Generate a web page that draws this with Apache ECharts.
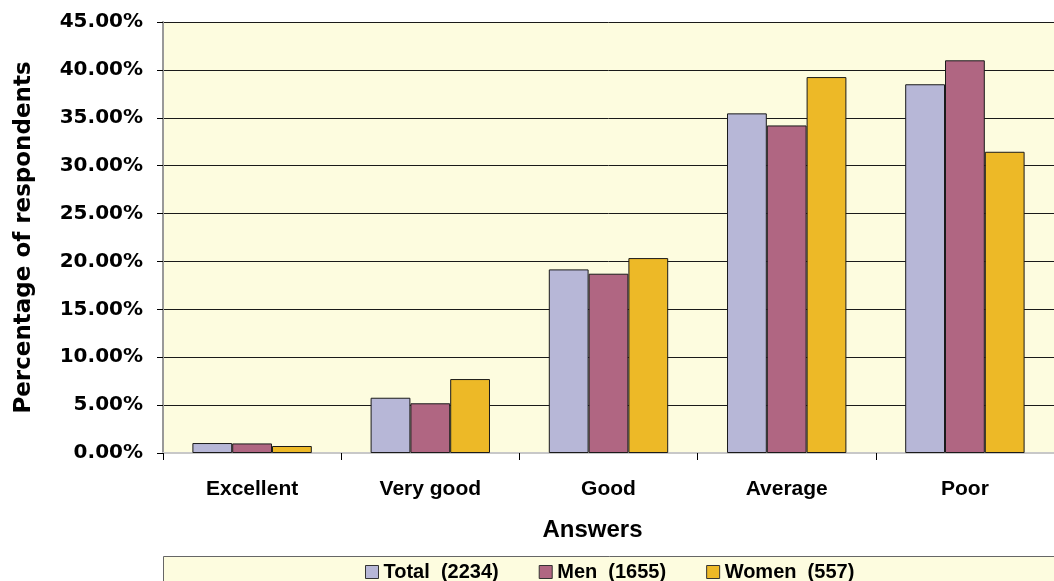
<!DOCTYPE html>
<html>
<head>
<meta charset="utf-8">
<script src="https://cdn.jsdelivr.net/npm/echarts@6/dist/echarts.min.js"></script>
<style>
  html, body { margin: 0; padding: 0; background: #ffffff; }
  #chart { width: 1054px; height: 581px; }
</style>
</head>
<body>
<div id="chart"></div>
<script>
const categories = ['Excellent', 'Very good', 'Good', 'Average', 'Poor']
const seriesNames = ['Total  (2234)', 'Men  (1655)', 'Women  (557)']
const totalValues = [1.04, 5.77, 19.17, 35.46, 38.5]
const menValues = [1.0, 5.19, 18.72, 34.2, 41.0]
const womenValues = [0.73, 7.72, 20.35, 39.25, 31.45]
const colors = ['#B7B7D7', '#B06682', '#EDB927']

const arial = 'Liberation Sans'
const wide = 'DejaVu Sans'

let myChart = echarts.init(document.getElementById('chart'))

function barSeries(name, data, color) {
  return {
    name: name,
    type: 'bar',
    data: data,
    barGap: '0%',
    barCategoryGap: '33%',
    itemStyle: {
      color: color,
      borderColor: '#1a1a1a',
      borderWidth: 1
    }
  }
}

let option = {
  animation: false,
  backgroundColor: '#ffffff',
  textStyle: { fontFamily: arial },
  graphic: [
    {
      // legend box
      type: 'rect',
      left: 163,
      top: 556,
      shape: { width: 920, height: 60 },
      style: { fill: '#FDFCDF', stroke: '#666666', lineWidth: 1 },
      z: 0
    }
  ],
  legend: {
    left: 360,
    top: 557,
    itemGap: 40,
    itemWidth: 13,
    itemHeight: 13,
    icon: 'rect',
    data: seriesNames,
    itemStyle: { borderColor: '#333333', borderWidth: 1 },
    textStyle: { fontFamily: arial, fontWeight: 'bold', fontSize: 20, color: '#000000' }
  },
  grid: {
    left: 163,
    right: -4,
    top: 22,
    bottom: 128,
    show: true,
    backgroundColor: '#FDFCDF',
    borderWidth: 0
  },
  xAxis: {
    type: 'category',
    data: categories,
    name: 'Answers',
    nameLocation: 'middle',
    nameGap: 65,
    nameTextStyle: { fontFamily: arial, fontWeight: 'bold', fontSize: 24, color: '#000000', padding: [0, 32, 0, 0] },
    axisLine: { lineStyle: { color: '#c8c8c8', width: 2 } },
    axisTick: { show: true, length: 7, lineStyle: { color: '#000000' } },
    axisLabel: { margin: 26, fontFamily: arial, fontWeight: 'bold', fontSize: 21, color: '#000000' }
  },
  yAxis: {
    type: 'value',
    min: 0,
    max: 45,
    interval: 5,
    name: 'Percentage of respondents',
    nameLocation: 'middle',
    nameGap: 127,
    nameTextStyle: { fontFamily: wide, fontWeight: 'bold', fontSize: 23, color: '#000000' },
    axisLine: { show: true, lineStyle: { color: '#999999', width: 2 } },
    axisTick: { show: true, length: 6, lineStyle: { color: '#000000' } },
    axisLabel: {
      margin: 20,
      fontFamily: wide,
      fontWeight: 'bold',
      fontSize: 20,
      color: '#000000',
      formatter: function (v) { return v.toFixed(2) + '%' }
    },
    splitLine: { lineStyle: { color: '#1a1a1a', width: 1 } }
  },
  series: [
    barSeries(seriesNames[0], totalValues, colors[0]),
    barSeries(seriesNames[1], menValues, colors[1]),
    barSeries(seriesNames[2], womenValues, colors[2])
  ]
}
myChart.setOption(option)
</script>
</body>
</html>
